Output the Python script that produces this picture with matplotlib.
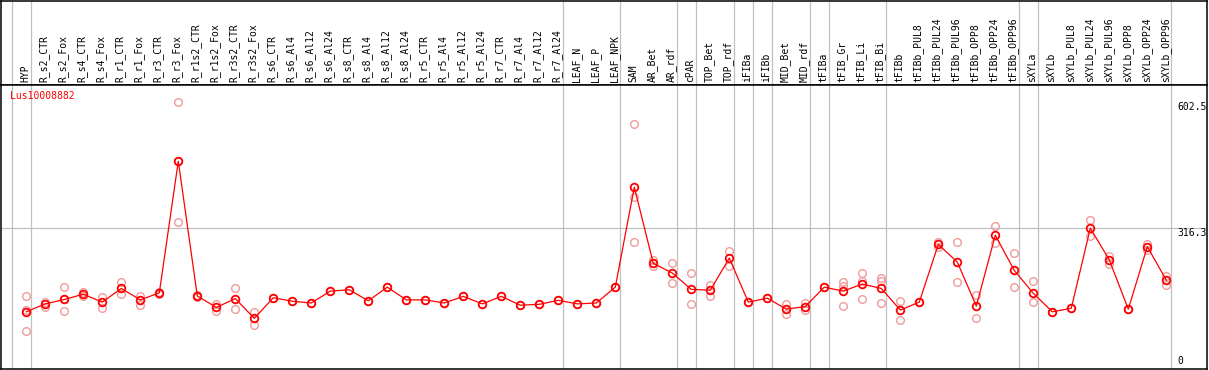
"""
Expression profile of Lus10008882 across tissues / treatments
"""
import matplotlib
matplotlib.use('Agg')
import matplotlib.pyplot as plt

GENE = 'Lus10008882'

LABELS = ['HYP', 'R_s2_CTR', 'R_s2_Fox', 'R_s4_CTR', 'R_s4_Fox', 'R_r1_CTR',
          'R_r1_Fox', 'R_r3_CTR', 'R_r3_Fox', 'R_r1s2_CTR', 'R_r1s2_Fox',
          'R_r3s2_CTR', 'R_r3s2_Fox', 'R_s6_CTR', 'R_s6_Al4', 'R_s6_Al12',
          'R_s6_Al24', 'R_s8_CTR', 'R_s8_Al4', 'R_s8_Al12', 'R_s8_Al24',
          'R_r5_CTR', 'R_r5_Al4', 'R_r5_Al12', 'R_r5_Al24', 'R_r7_CTR',
          'R_r7_Al4', 'R_r7_Al12', 'R_r7_Al24', 'LEAF_N', 'LEAF_P', 'LEAF_NPK',
          'SAM', 'AR_Bet', 'AR_rdf', 'cPAR', 'TOP_Bet', 'TOP_rdf', 'iFIBa',
          'iFIBb', 'MID_Bet', 'MID_rdf', 'tFIBa', 'tFIB_Gr', 'tFIB_Li',
          'tFIB_Bi', 'tFIBb', 'tFIBb_PUL8', 'tFIBb_PUL24', 'tFIBb_PUL96',
          'tFIBb_OPP8', 'tFIBb_OPP24', 'tFIBb_OPP96', 'sXYLa', 'sXYLb',
          'sXYLb_PUL8', 'sXYLb_PUL24', 'sXYLb_PUL96', 'sXYLb_OPP8',
          'sXYLb_OPP24', 'sXYLb_OPP96']

# mean expression per sample
MEANS = [126, 144, 154, 166, 148, 179, 153, 169, 468, 162, 136, 156, 111,
         158, 150, 146, 173, 176, 151, 182, 153, 153, 146, 161, 144, 161,
         141, 143, 152, 144, 146, 182, 409, 236, 214, 177, 175, 248, 148,
         157, 132, 138, 182, 173, 189, 179, 130, 148, 279, 239, 139, 300,
         220, 168, 126, 134, 316, 244, 132, 274, 198]

# individual replicates
REPLICATES = [[161, 130, 82], [148, 138], [182, 154, 127], [171, 163],
              [160, 134], [194, 167], [163, 142], [171, 167],
              [602.5, 468, 330], [164, 160], [143, 128], [179, 133],
              [126, 97], [158], [150], [146], [173], [176], [151], [182],
              [153], [153], [146], [161], [144], [161], [141], [143], [152],
              [144], [146], [182], [552, 386, 284], [244, 231], [237, 191],
              [214, 143], [188, 163], [264, 229], [148], [157], [144, 120],
              [145, 131], [182], [194, 185, 139], [214, 197, 156],
              [202, 196, 145], [151, 107], [148], [285, 273], [284, 193],
              [164, 113], [321, 282], [259, 182], [195, 148], [126], [134],
              [335, 298], [253, 234], [132], [281, 266], [208, 187]]

# index of last sample in each group (separators drawn after them)
GROUP_ENDS = [-1, 0, 28, 31, 34, 35, 37, 38, 39, 41, 42, 45, 52, 53, 60]

Y_MAX = 602.5
Y_REF = 316.3

W, H = 1209, 370
fig = plt.figure(figsize=(W / 100, H / 100), dpi=100)

XLIM = (-1.358, 62.116)
YLIM = (-3.9, 641.1)
HEAD = 85  # header height in px

ax_head = fig.add_axes([0.5 / W, (H - HEAD) / H, 1206 / W, HEAD / H - 0.5 / H])
ax = fig.add_axes([0.5 / W, 1 / H, 1206 / W, (H - HEAD - 1) / H])

font = dict(family='DejaVu Sans Mono', size=7)

for a in (ax_head, ax):
    a.set_xlim(*XLIM)
    a.set_xticks([])
    a.set_yticks([])
    for s in a.spines.values():
        s.set_linewidth(1.1)
        s.set_color('black')
    for g in GROUP_ENDS:
        a.axvline(g + 0.23, color='#c0c0c0', lw=0.9, zorder=0)

ax_head.set_ylim(0, 1)
for i, lab in enumerate(LABELS):
    ax_head.text(i - 0.05, 0.03, lab, rotation=90, ha='center', va='bottom',
                 color='black', **font)

ax.set_ylim(*YLIM)
ax.axhline(Y_REF, color='#c0c0c0', lw=0.9, zorder=0)

xs, ys = [], []
for i, reps in enumerate(REPLICATES):
    xs += [i] * len(reps)
    ys += reps
ax.plot(xs, ys, 'o', ms=5.5, mfc='none', mec='#f09a9a', mew=1.0, zorder=2)
ax.plot(range(len(MEANS)), MEANS, '-o', color='red', lw=0.9, ms=5.5,
        mfc='none', mec='red', mew=1.3, zorder=3)

ax.text(9.5 / 1206, 1 - 6 / 284, GENE, transform=ax.transAxes, ha='left',
        va='top', color='red', **font)

x_lab = (1177 - 26.3) / 19
ax.text(x_lab, Y_MAX, f'{Y_MAX}', ha='left', va='top', clip_on=False, **font)
ax.text(x_lab, Y_REF, f'{Y_REF}', ha='left', va='top', clip_on=False, **font)
ax.text(x_lab, 2, '0', ha='left', va='bottom', clip_on=False, **font)

fig.savefig('out.png', dpi=100, facecolor='white')
